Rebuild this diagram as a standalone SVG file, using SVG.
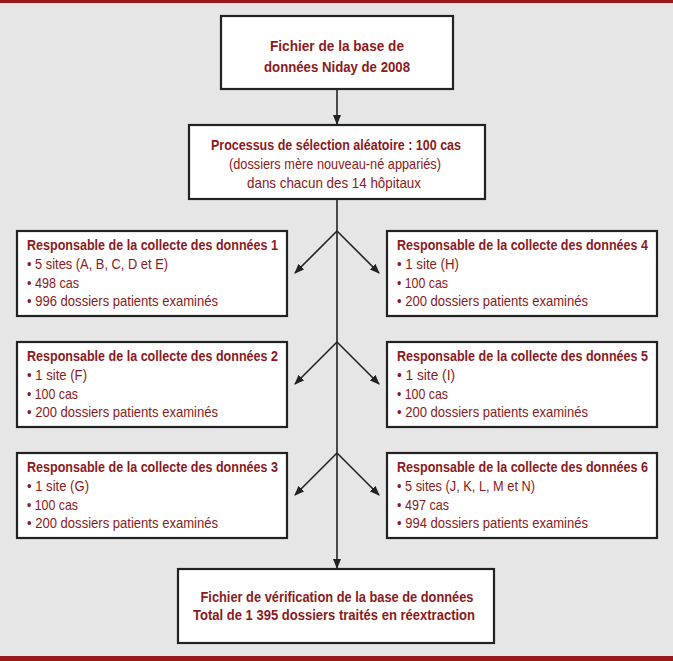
<svg xmlns="http://www.w3.org/2000/svg" width="673" height="661" viewBox="0 0 673 661">
<defs>
<style>
.bg{fill:#e6e6e7}
.bar{fill:#9a1a1a}
.box{fill:#fff;stroke:#222;stroke-width:2.2}
.t{font-family:"Liberation Sans Narrow","Liberation Sans",Arial,sans-serif;font-size:15px;fill:#8a1a20}
.b{font-weight:bold}
.c{text-anchor:middle}
.ln{stroke:#222;stroke-width:1.6;fill:none}
</style>
<marker id="ah" markerWidth="10" markerHeight="8" refX="9" refY="4" orient="auto" markerUnits="userSpaceOnUse">
<path d="M0,0 L10,4 L0,8 Z" fill="#222"/>
</marker>
</defs>
<rect class="bg" x="0" y="0" width="673" height="661"/>
<rect class="bar" x="0" y="0" width="673" height="3"/>
<rect class="bar" x="0" y="656" width="673" height="5"/>

<g id="connectors">
<line class="ln" x1="337" y1="89" x2="337" y2="124" marker-end="url(#ah)"/>
<line class="ln" x1="337" y1="199" x2="337" y2="568" marker-end="url(#ah)"/>
<line class="ln" x1="337" y1="231" x2="295" y2="273" marker-end="url(#ah)"/>
<line class="ln" x1="337" y1="231" x2="379" y2="273" marker-end="url(#ah)"/>
<line class="ln" x1="337" y1="342" x2="295" y2="384" marker-end="url(#ah)"/>
<line class="ln" x1="337" y1="342" x2="379" y2="384" marker-end="url(#ah)"/>
<line class="ln" x1="337" y1="453" x2="295" y2="495" marker-end="url(#ah)"/>
<line class="ln" x1="337" y1="453" x2="379" y2="495" marker-end="url(#ah)"/>
</g>

<g id="n1">
<rect class="box" x="221" y="16" width="232" height="73"/>
<text class="t b c" x="337" y="51" textLength="134" lengthAdjust="spacingAndGlyphs">Fichier de la base de</text>
<text class="t b c" x="337" y="72" textLength="146" lengthAdjust="spacingAndGlyphs">données Niday de 2008</text>
</g>

<g id="n2">
<rect class="box" x="189" y="125" width="296" height="74"/>
<text class="t b c" x="336" y="150" textLength="250" lengthAdjust="spacingAndGlyphs">Processus de sélection aléatoire : 100 cas</text>
<text class="t c" x="335" y="169" textLength="212" lengthAdjust="spacingAndGlyphs">(dossiers mère nouveau-né appariés)</text>
<text class="t c" x="334" y="188" textLength="174" lengthAdjust="spacingAndGlyphs">dans chacun des 14 hôpitaux</text>
</g>

<g id="r1">
<rect class="box" x="17" y="231" width="270" height="85"/>
<text class="t b" x="27" y="250" textLength="251" lengthAdjust="spacingAndGlyphs">Responsable de la collecte des données 1</text>
<text class="t" x="27" y="269" textLength="141" lengthAdjust="spacingAndGlyphs">• 5 sites (A, B, C, D et E)</text>
<text class="t" x="27" y="288" textLength="52" lengthAdjust="spacingAndGlyphs">• 498 cas</text>
<text class="t" x="27" y="306" textLength="191" lengthAdjust="spacingAndGlyphs">• 996 dossiers patients examinés</text>
</g>

<g id="r4">
<rect class="box" x="387" y="231" width="270" height="85"/>
<text class="t b" x="397" y="250" textLength="251" lengthAdjust="spacingAndGlyphs">Responsable de la collecte des données 4</text>
<text class="t" x="397" y="269" textLength="62" lengthAdjust="spacingAndGlyphs">• 1 site (H)</text>
<text class="t" x="397" y="288" textLength="51" lengthAdjust="spacingAndGlyphs">• 100 cas</text>
<text class="t" x="397" y="306" textLength="191" lengthAdjust="spacingAndGlyphs">• 200 dossiers patients examinés</text>
</g>

<g id="r2">
<rect class="box" x="17" y="342" width="270" height="85"/>
<text class="t b" x="27" y="361" textLength="251" lengthAdjust="spacingAndGlyphs">Responsable de la collecte des données 2</text>
<text class="t" x="27" y="380" textLength="60" lengthAdjust="spacingAndGlyphs">• 1 site (F)</text>
<text class="t" x="27" y="399" textLength="51" lengthAdjust="spacingAndGlyphs">• 100 cas</text>
<text class="t" x="27" y="417" textLength="191" lengthAdjust="spacingAndGlyphs">• 200 dossiers patients examinés</text>
</g>

<g id="r5">
<rect class="box" x="387" y="342" width="270" height="85"/>
<text class="t b" x="397" y="361" textLength="251" lengthAdjust="spacingAndGlyphs">Responsable de la collecte des données 5</text>
<text class="t" x="397" y="380" textLength="58" lengthAdjust="spacingAndGlyphs">• 1 site (I)</text>
<text class="t" x="397" y="399" textLength="51" lengthAdjust="spacingAndGlyphs">• 100 cas</text>
<text class="t" x="397" y="417" textLength="191" lengthAdjust="spacingAndGlyphs">• 200 dossiers patients examinés</text>
</g>

<g id="r3">
<rect class="box" x="17" y="453" width="270" height="85"/>
<text class="t b" x="27" y="472" textLength="251" lengthAdjust="spacingAndGlyphs">Responsable de la collecte des données 3</text>
<text class="t" x="27" y="491" textLength="62" lengthAdjust="spacingAndGlyphs">• 1 site (G)</text>
<text class="t" x="27" y="510" textLength="51" lengthAdjust="spacingAndGlyphs">• 100 cas</text>
<text class="t" x="27" y="528" textLength="191" lengthAdjust="spacingAndGlyphs">• 200 dossiers patients examinés</text>
</g>

<g id="r6">
<rect class="box" x="387" y="453" width="270" height="85"/>
<text class="t b" x="397" y="472" textLength="251" lengthAdjust="spacingAndGlyphs">Responsable de la collecte des données 6</text>
<text class="t" x="397" y="491" textLength="138" lengthAdjust="spacingAndGlyphs">• 5 sites (J, K, L, M et N)</text>
<text class="t" x="397" y="510" textLength="52" lengthAdjust="spacingAndGlyphs">• 497 cas</text>
<text class="t" x="397" y="528" textLength="191" lengthAdjust="spacingAndGlyphs">• 994 dossiers patients examinés</text>
</g>

<g id="n7">
<rect class="box" x="178" y="569" width="316" height="74"/>
<text class="t b c" x="337" y="602" textLength="273" lengthAdjust="spacingAndGlyphs">Fichier de vérification de la base de données</text>
<text class="t b c" x="334" y="620" textLength="282" lengthAdjust="spacingAndGlyphs">Total de 1 395 dossiers traités en réextraction</text>
</g>
</svg>
